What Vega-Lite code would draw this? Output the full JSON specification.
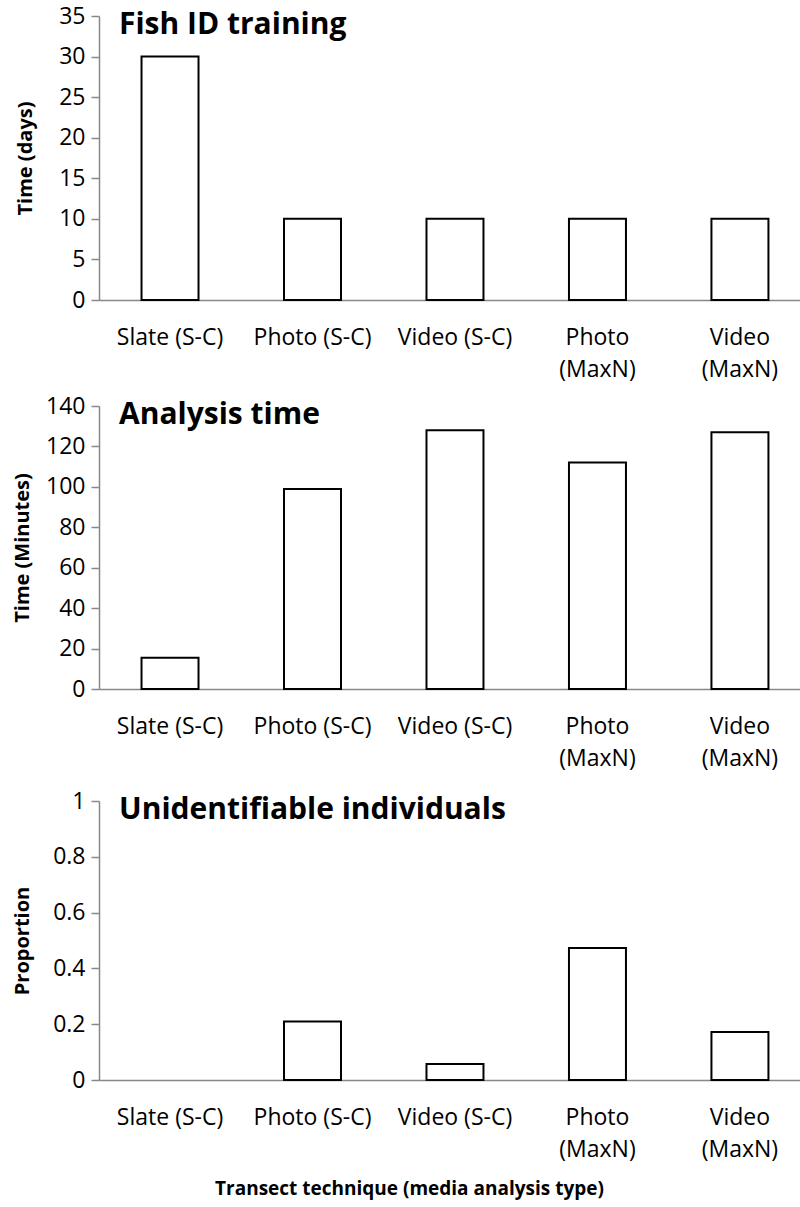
{
  "$schema": "https://vega.github.io/schema/vega-lite/v6.json",
  "background": "white",
  "padding": {"left": 12, "top": 5, "right": 0, "bottom": 5},
  "spacing": 14,
  "config": {
    "view": {"stroke": null},
    "font": "Open Sans",
    "axis": {"labelFont": "Open Sans", "labelFontSize": 23, "labelColor": "#000", "titleFont": "Open Sans", "titleFontWeight": "bold", "titleFontSize": 20, "titleColor": "#000", "domainColor": "#888888", "domainWidth": 1.5, "tickColor": "#888888", "tickWidth": 1.5, "grid": false},
    "axisX": {"ticks": false, "labelAngle": 0, "labelPadding": 26, "labelLineHeight": 32},
    "axisY": {"tickSize": 8, "labelPadding": 6},
    "title": {"font": "Open Sans", "fontSize": 30, "fontWeight": "bold", "color": "#000", "anchor": "start", "frame": "group", "dx": 20, "offset": -35, "baseline": "alphabetic"},
    "bar": {"fill": "white", "stroke": "black", "strokeWidth": 2}
  },
  "data": {"values": [
    {"technique": "Slate (S-C)", "days": 30, "minutes": 15.5, "proportion": 0},
    {"technique": "Photo (S-C)", "days": 10, "minutes": 99, "proportion": 0.21},
    {"technique": "Video (S-C)", "days": 10, "minutes": 128, "proportion": 0.057},
    {"technique": "Photo (MaxN)", "days": 10, "minutes": 112, "proportion": 0.473},
    {"technique": "Video (MaxN)", "days": 10, "minutes": 127, "proportion": 0.172}
  ]},
  "vconcat": [
    {
      "title": "Fish ID training",
      "width": 701, "height": 284,
      "mark": "bar",
      "encoding": {
        "x": {"field": "technique", "type": "nominal", "sort": null,
              "scale": {"domain": ["Slate (S-C)", "Photo (S-C)", "Video (S-C)", "Photo (MaxN)", "Video (MaxN)"], "paddingInner": 0.6, "paddingOuter": 0.26, "align": 0.574},
              "axis": {"title": null, "labelExpr": "indexof(datum.label,'MaxN')>=0 ? split(datum.label,' ') : datum.label"}},
        "y": {"field": "days", "type": "quantitative",
              "scale": {"domain": [0, 35], "nice": false},
              "axis": {"title": "Time (days)", "values": [0, 5, 10, 15, 20, 25, 30, 35], "titlePadding": 23}}
      }
    },
    {
      "spacing": 20,
      "vconcat": [
        {
          "title": "Analysis time",
          "width": 701, "height": 283,
          "mark": "bar",
          "encoding": {
            "x": {"field": "technique", "type": "nominal", "sort": null,
                  "scale": {"domain": ["Slate (S-C)", "Photo (S-C)", "Video (S-C)", "Photo (MaxN)", "Video (MaxN)"], "paddingInner": 0.6, "paddingOuter": 0.26, "align": 0.574},
                  "axis": {"title": null, "labelExpr": "indexof(datum.label,'MaxN')>=0 ? split(datum.label,' ') : datum.label"}},
            "y": {"field": "minutes", "type": "quantitative",
                  "scale": {"domain": [0, 140], "nice": false},
                  "axis": {"title": "Time (Minutes)", "values": [0, 20, 40, 60, 80, 100, 120, 140], "titlePadding": 13}}
          }
        },
        {
          "title": "Unidentifiable individuals",
          "width": 701, "height": 279,
          "transform": [{"filter": "datum.proportion > 0"}],
          "mark": "bar",
          "encoding": {
            "x": {"field": "technique", "type": "nominal", "sort": null,
                  "scale": {"domain": ["Slate (S-C)", "Photo (S-C)", "Video (S-C)", "Photo (MaxN)", "Video (MaxN)"], "paddingInner": 0.6, "paddingOuter": 0.26, "align": 0.574},
                  "axis": {"title": "Transect technique (media analysis type)", "titleFontSize": 19, "titleX": 310, "titlePadding": 18, "labelExpr": "indexof(datum.label,'MaxN')>=0 ? split(datum.label,' ') : datum.label"}},
            "y": {"field": "proportion", "type": "quantitative",
                  "scale": {"domain": [0, 1], "nice": false},
                  "axis": {"title": "Proportion", "values": [0, 0.2, 0.4, 0.6, 0.8, 1], "format": "~g", "titlePadding": 20}}
          }
        }
      ]
    }
  ]
}
